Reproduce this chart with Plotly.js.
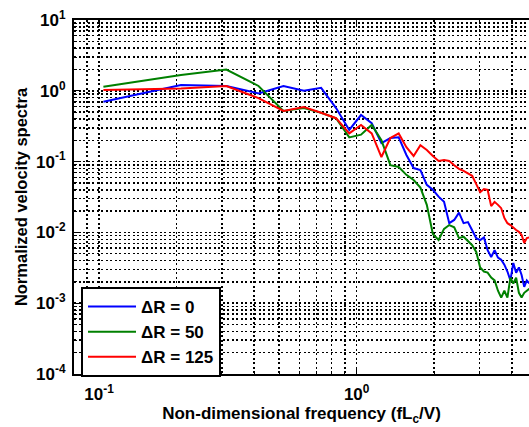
<!DOCTYPE html>
<html>
<head>
<meta charset="utf-8">
<script src="https://cdn.plot.ly/plotly-3.0.1.min.js"></script>
<style>html,body{margin:0;padding:0;background:#fff;}#chart{width:529px;height:427px;}</style>
</head>
<body>
<div id="chart"></div>
<script>
// Non-dimensional frequency (fLc/V)
const freq = [0.104,0.208,0.312,0.416,0.52,0.624,0.728,0.832,0.936,1.04,1.144,1.248,1.352,1.456,1.56,1.664,1.768,1.872,1.976,2.08,2.184,2.288,2.392,2.496,2.6,2.704,2.808,2.912,3.016,3.12,3.224,3.328,3.432,3.536,3.64,3.744,3.848,3.952,4.056,4.16,4.264,4.368,4.472,4.576,4.68];
// Delta R = 0
const spec0 = [0.70,1.21,1.17,0.92,1.17,1.0,1.1,0.57,0.28,0.455,0.35,0.183,0.215,0.22,0.124,0.081,0.076,0.047,0.04,0.032,0.027,0.0135,0.015,0.019,0.0135,0.014,0.0107,0.0083,0.0078,0.0085,0.0056,0.0045,0.0056,0.0044,0.0041,0.0035,0.0028,0.0021,0.0037,0.0027,0.0032,0.0025,0.0017,0.0021,0.0019];
// Delta R = 50
const spec50 = [1.14,1.67,2.0,1.17,0.52,0.57,0.49,0.41,0.22,0.24,0.33,0.20,0.089,0.084,0.065,0.055,0.043,0.0245,0.0095,0.0078,0.0112,0.0127,0.0118,0.0083,0.0087,0.0076,0.0066,0.0053,0.0032,0.0028,0.0027,0.0023,0.0021,0.0015,0.0012,0.0015,0.0012,0.0023,0.0019,0.0023,0.0014,0.0012,0.0014,0.0015,0.0016];
// Delta R = 125
const spec125 = [1.03,1.08,1.17,0.79,0.52,0.59,0.49,0.41,0.25,0.33,0.25,0.116,0.215,0.25,0.16,0.12,0.17,0.146,0.12,0.102,0.105,0.102,0.089,0.079,0.074,0.069,0.063,0.048,0.037,0.041,0.04,0.0235,0.027,0.0245,0.022,0.016,0.0135,0.0127,0.0115,0.0108,0.0102,0.0092,0.0071,0.0083,0.0085];

const seriesNames = ['\u0394R = 0','\u0394R = 50','\u0394R = 125'];
const seriesColors = ['#0000ff','#008000','#ff0000'];

const xTickVals = [0.1, 1, 10];
const xTickText = ['10<sup>-1</sup>','10<sup>0</sup>','10<sup>1</sup>'];
const yTickVals = [1e-4, 1e-3, 1e-2, 1e-1, 1, 10];
const yTickText = ['10<sup>-4</sup>','10<sup>-3</sup>','10<sup>-2</sup>','10<sup>-1</sup>','10<sup>0</sup>','10<sup>1</sup>'];

function minorVals(lo, hi) {
  const out = [];
  for (let e = lo; e < hi; e++) {
    for (let m = 2; m <= 9; m++) out.push(m * Math.pow(10, e));
  }
  return out;
}

const font = 'Liberation Sans, Arial, sans-serif';
const traces = [spec0, spec50, spec125].map((s, i) => ({
  x: freq, y: s, type: 'scatter', mode: 'lines', name: seriesNames[i],
  line: {color: seriesColors[i], width: 2}
}));

const gridDash = '2px,2.5px';
const common = {
  type: 'log', tickmode: 'array', ticks: 'inside', ticklen: 6, tickwidth: 1, tickcolor: '#000',
  showline: true, linecolor: '#000', linewidth: 2,
  showgrid: true, gridcolor: '#000', gridwidth: 1.5, griddash: gridDash,
  zeroline: false,
  tickfont: {family: font, size: 17, color: '#000', weight: 'bold'}
};

const layout = {
  width: 529, height: 427,
  margin: {l: 74, r: 0, t: 20, b: 53},
  paper_bgcolor: '#fff', plot_bgcolor: '#fff',
  showlegend: true,
  legend: {
    x: 0.0154, y: 0.2458, xanchor: 'left', yanchor: 'top',
    bgcolor: '#fff', bordercolor: '#000', borderwidth: 2,
    font: {family: font, size: 17, color: '#000', weight: 'bold'},
    traceorder: 'normal', itemwidth: 48
  },
  xaxis: Object.assign({}, common, {
    range: [-1.0971, 0.669],
    tickvals: xTickVals, ticktext: xTickText,
    mirror: 'allticks',
    ticklabelstandoff: 4,
    minor: {tickmode: 'array', tickvals: minorVals(-2, 1), ticks: 'inside', ticklen: 3, tickcolor: '#000',
            showgrid: true, gridcolor: '#000', gridwidth: 1.5, griddash: gridDash},
    title: {text: 'Non-dimensional frequency (fL<sub>c</sub>/V)', standoff: 1,
            font: {family: font, size: 17, color: '#000', weight: 'bold'}}
  }),
  yaxis: Object.assign({}, common, {
    range: [-4, 1],
    tickvals: yTickVals, ticktext: yTickText,
    mirror: false,
    ticklabelstandoff: 3,
    minor: {tickmode: 'array', tickvals: minorVals(-4, 1), ticks: 'inside', ticklen: 3, tickcolor: '#000',
            showgrid: true, gridcolor: '#000', gridwidth: 1.5, griddash: gridDash},
    title: {text: 'Normalized velocity spectra', standoff: 4,
            font: {family: font, size: 16.5, color: '#000', weight: 'bold'}}
  })
};

Plotly.newPlot('chart', traces, layout, {staticPlot: true, displayModeBar: false});
</script>
</body>
</html>
